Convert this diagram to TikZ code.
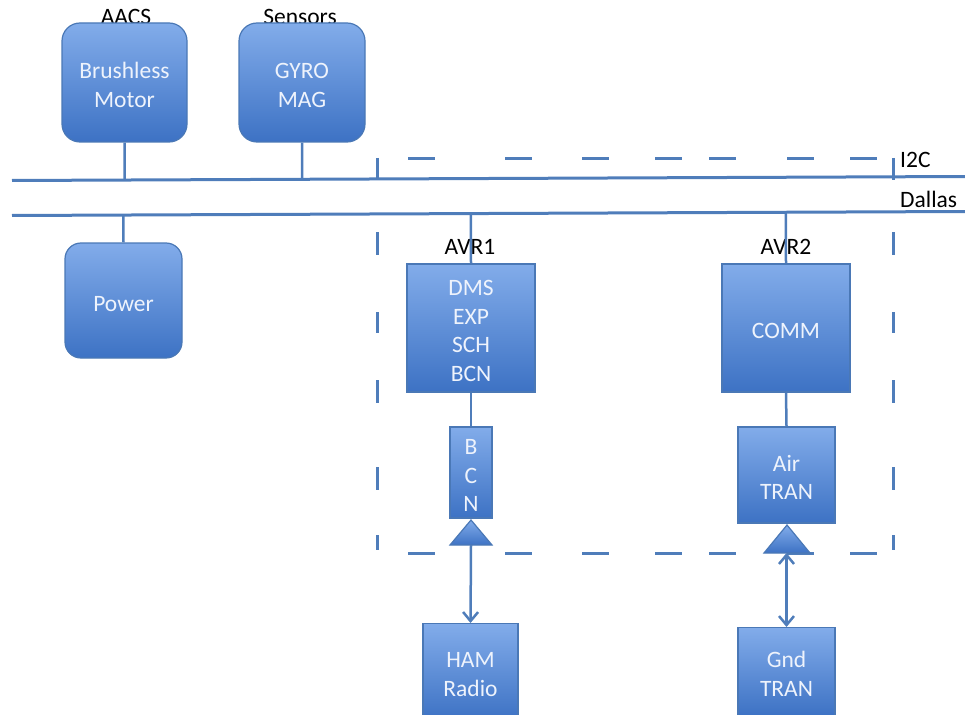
\documentclass[tikz,border=0pt]{standalone}
\usepackage{fontspec}
\setmainfont{Carlito}
\usetikzlibrary{arrows.meta,calc}
\definecolor{lineblue}{HTML}{4F7DBA}
\definecolor{boxtop}{HTML}{82ACEA}
\definecolor{boxbot}{HTML}{3D72C4}
\definecolor{boxedge}{HTML}{4A78B6}
\definecolor{boxtext}{HTML}{EEF3FC}
\tikzset{mybarb/.tip={Straight Barb[length=9pt,width=15pt]}}
\begin{document}
\begin{tikzpicture}[x=1pt,y=-1pt,
  box/.style={draw=boxedge, line width=1.2pt, top color=boxtop, bottom color=boxbot,
    text=boxtext, font=\fontsize{23.5}{28.5}\selectfont, align=center, inner sep=0pt,
    text height=21pt, text depth=0pt},
  rbox/.style={box, rounded corners=18pt},
  two/.style={text height=49.5pt},
  three/.style={text height=78pt},
  four/.style={text height=106.5pt},
  lbl/.style={font=\fontsize{23.5}{26}\selectfont, text=black, inner sep=0pt},
  conn/.style={draw=lineblue, line width=2.5pt},
  bus/.style={draw=lineblue, line width=3pt},
  dsh/.style={draw=lineblue, line width=3pt},
  tri/.style={draw=boxedge, line width=1.2pt, top color=boxtop, bottom color=boxbot}
]
\path[use as bounding box, clip] (0,0) rectangle (965,714);

% dashed enclosure
\foreach \a/\b in {408/435,505/532,582/609,655/682,709/736,787/814,850/877}{
  \draw[dsh] (\a,159) -- (\b,159);
  \draw[dsh] (\a,553) -- (\b,553);
}
\foreach \a/\b in {158/180,232/255,312/333,380/403,467/490,535/550}{
  \draw[dsh] (377,\a) -- (377,\b);
  \draw[dsh] (893,\a) -- (893,\b);
}

% buses
\coordinate (i2cL) at (12,180.5);
\coordinate (i2cR) at (965,176.5);
\coordinate (dalL) at (12,215.5);
\coordinate (dalR) at (965,211.5);
\draw[bus] (i2cL) -- (i2cR);
\draw[bus] (dalL) -- (dalR);
\node[lbl, anchor=west] (li2c) at (900,160) {I2C};
\node[lbl, anchor=west] (ldal) at (900,199) {Dallas};

% labels
\node[lbl] (aacs) at (126,17) {AACS};
\node[lbl] (sens) at (300,17) {Sensors};
\node[lbl] (lavr1) at (470,247) {AVR1};
\node[lbl] (lavr2) at (786,247) {AVR2};

% boxes
\node[rbox, two, minimum width=125pt, minimum height=119pt] (motor) at (124.5,82.5) {Brushless\\Motor};
\node[rbox, two, minimum width=126pt, minimum height=119pt] (gyro) at (302,82.5) {GYRO\\MAG};
\node[rbox, rounded corners=16pt, minimum width=117pt, minimum height=115pt] (power) at (123.5,300.5) {Power};
\node[box, four, minimum width=128pt, minimum height=128pt] (avr1) at (471,328) {DMS\\EXP\\SCH\\BCN};
\node[box, minimum width=128pt, minimum height=128pt] (avr2) at (786,328) {COMM};
\node[box, three, minimum width=42pt, minimum height=91pt] (bcn) at (471,472.5) {B\\C\\N};
\node[box, two, minimum width=97pt, minimum height=96pt] (air) at (786.5,475) {Air\\TRAN};
\node[box, two, minimum width=95pt, minimum height=96pt, anchor=north] (ham) at (470.5,623) {HAM\\Radio};
\node[box, two, minimum width=97pt, minimum height=88pt, anchor=north] (gnd) at (786.5,627) {Gnd\\TRAN};

% connectors
\draw[conn] (motor.south) -- ($(i2cL)!(motor.south)!(i2cR)$);
\draw[conn] (gyro.south) -- ($(i2cL)!(gyro.south)!(i2cR)$);
\draw[conn] (power.north) -- ($(dalL)!(power.north)!(dalR)$);
\draw[conn] (avr1.north) -- ($(dalL)!(avr1.north)!(dalR)$);
\draw[conn] (avr2.north) -- ($(dalL)!(avr2.north)!(dalR)$);
\draw[conn] (avr1.south) -- (bcn.north);
\draw[conn] (avr2.south) -- (air.north);

% antennas
\path[tri] (450,545) -- (471,520) -- (492,545) -- cycle;
\path[tri] (764,553) -- (787,525) -- (810,553) -- cycle;
\coordinate (ant1) at (471,545);
\coordinate (ant2) at (786.5,553);
\draw[conn, -mybarb] (ant1) -- (ham.north);
\draw[conn, mybarb-mybarb] (ant2) -- (gnd.north);
\end{tikzpicture}
\end{document}
